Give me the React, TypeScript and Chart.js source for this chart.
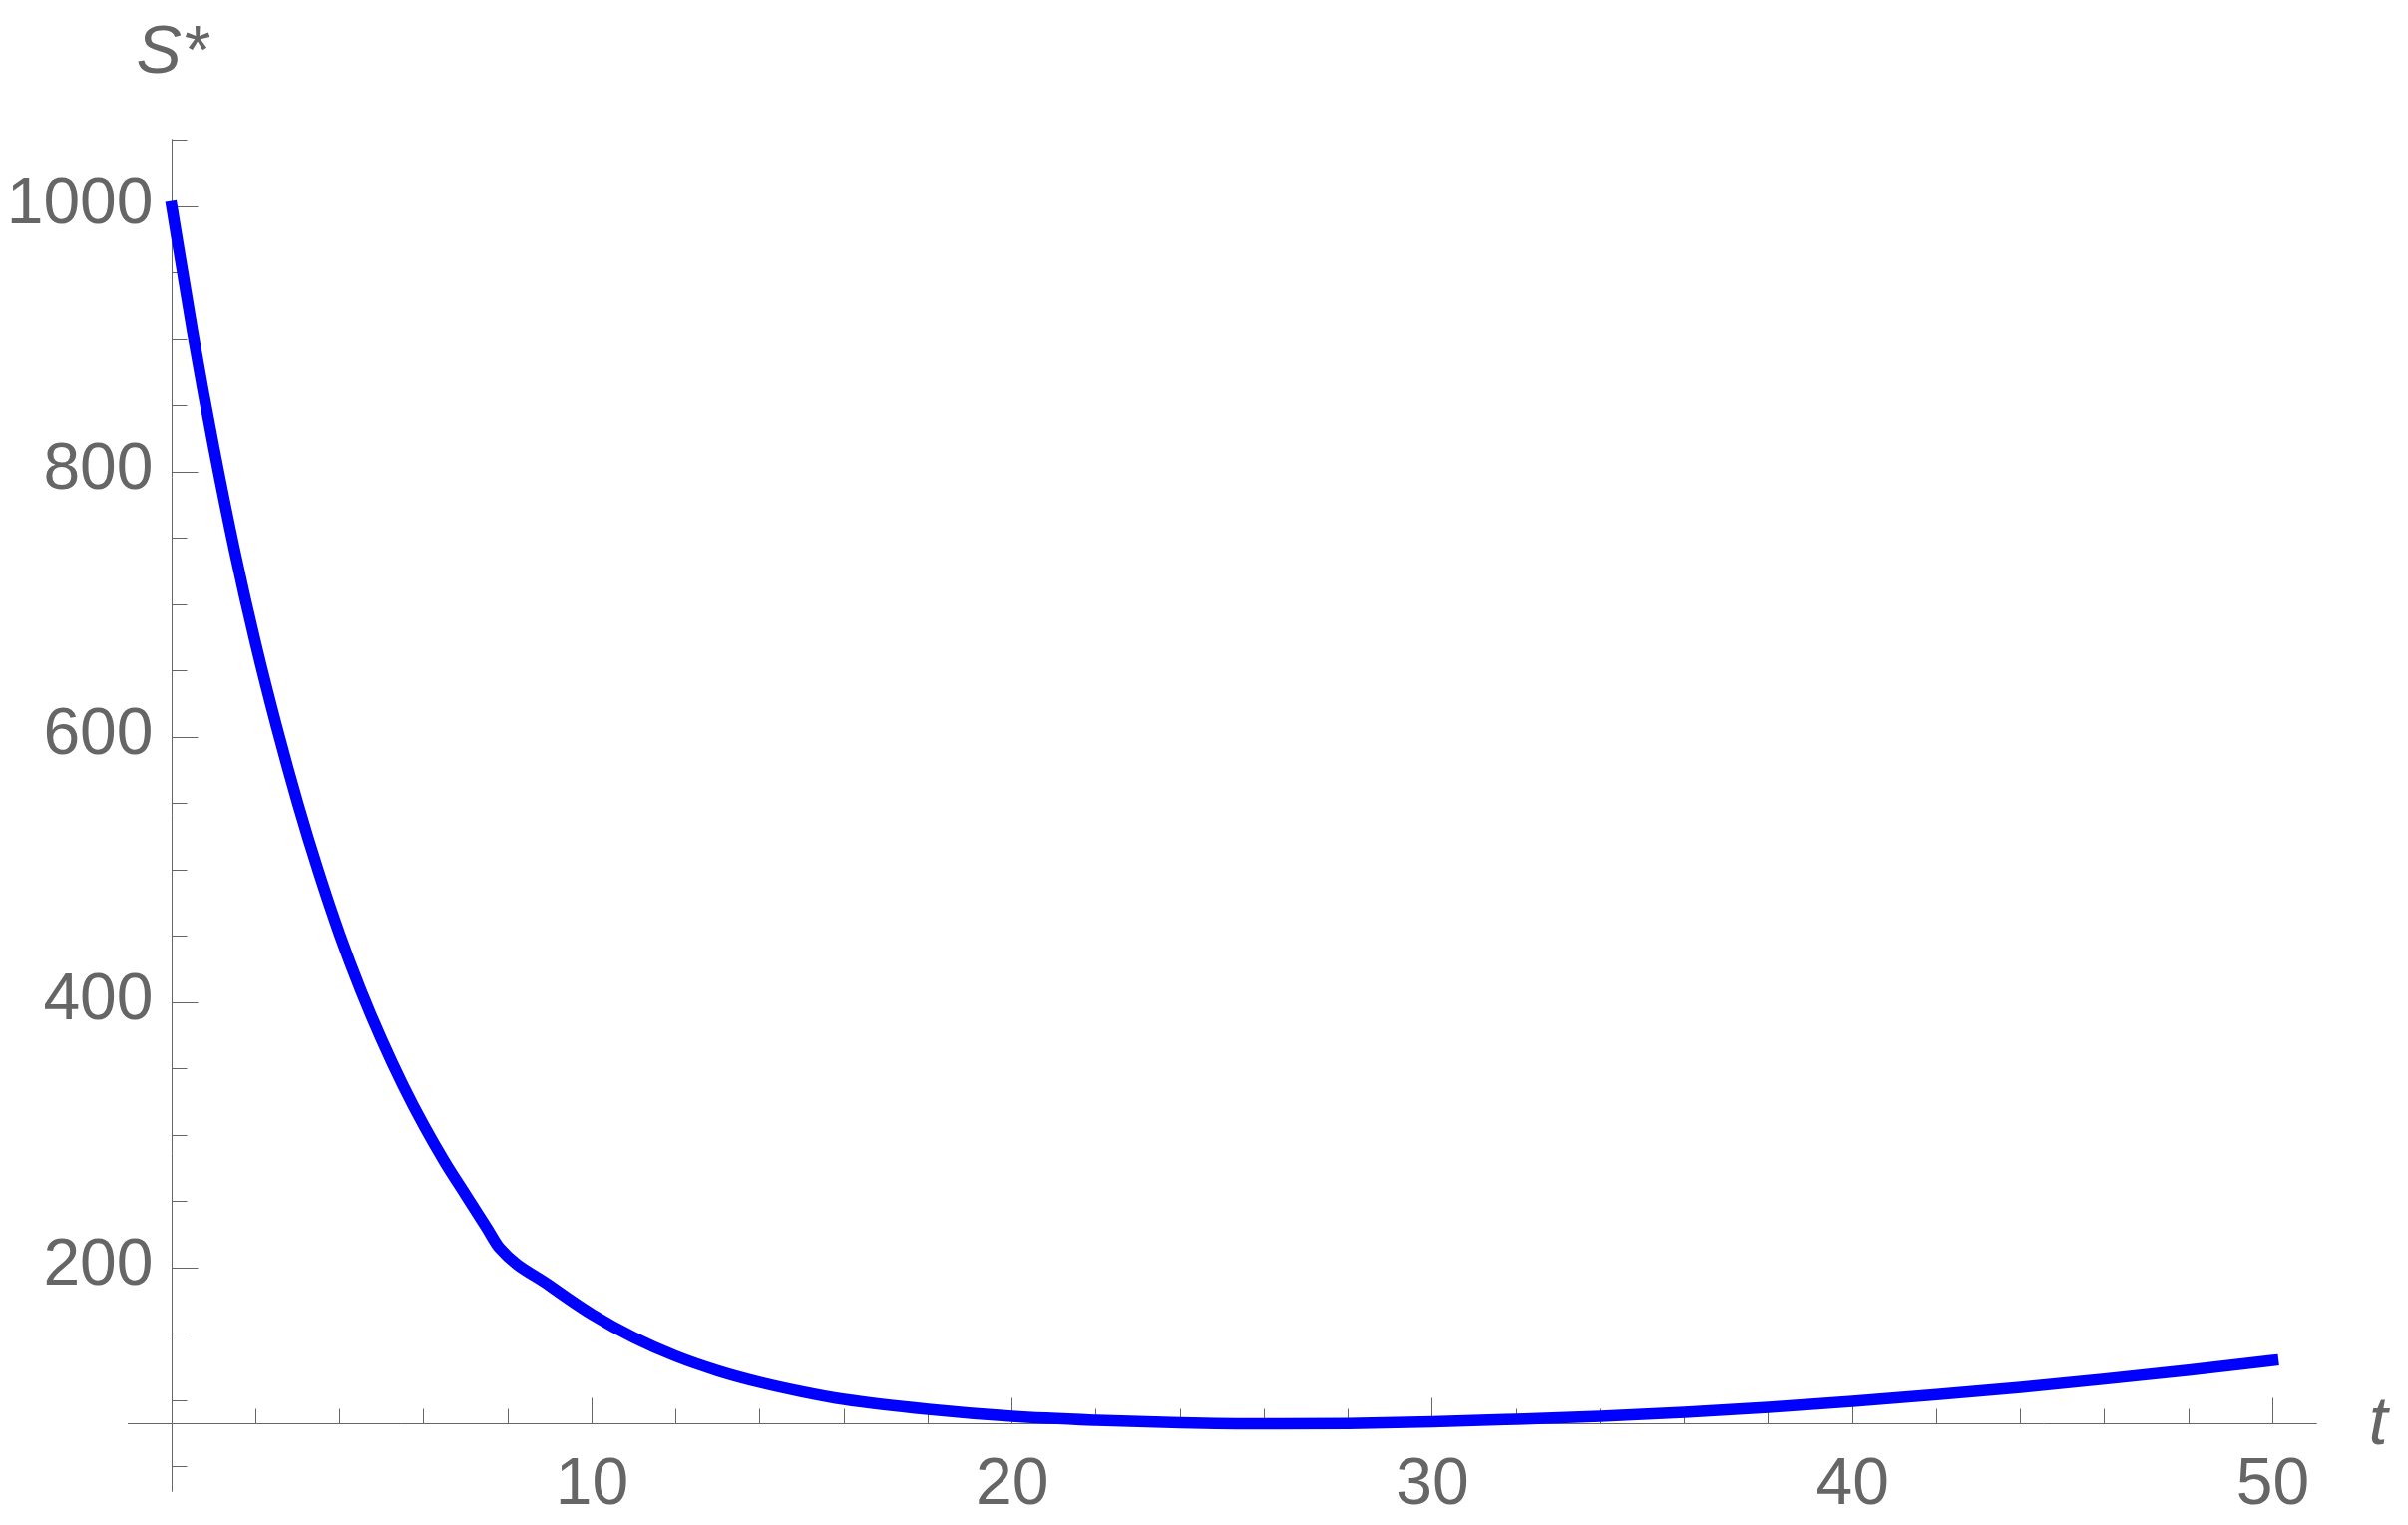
import React, { useEffect, useRef } from "react";
import { Chart, registerables } from "chart.js";

Chart.register(...registerables);

// ---- data ----
const tValues = [
  0, 0.5, 1, 1.5, 2, 2.5, 3, 3.5, 4, 4.5, 5, 5.5, 6, 6.5, 7, 7.5, 7.8,
  9, 10, 11, 12, 13, 14, 15, 16, 18, 20, 22, 24, 26, 28, 30, 32, 34, 36, 38,
  40, 42, 44, 46, 48, 50,
];
const sValues = [
  1000, 904.6, 818.3, 739.9, 670, 607.3, 550, 498.1, 451, 409.2, 371.7, 337.8,
  307.3, 279.8, 254.9, 230, 215,
  186.5, 165, 147.5, 133.5, 122.5, 113.8, 106.8, 101, 93.5, 88.2, 85.2, 83.3,
  82.5, 82.8, 84, 86, 88.3, 91.3, 95, 99.5, 104.5, 110, 116.3, 123, 130.3,
];

const xMajorTicks = [10, 20, 30, 40, 50];
const xTickLabels = ["10", "20", "30", "40", "50"];
const xMinorTicks = [2, 4, 6, 8, 12, 14, 16, 18, 22, 24, 26, 28, 32, 34, 36, 38, 42, 44, 46, 48];
const yMajorTicks = [200, 400, 600, 800, 1000];
const yTickLabels = ["200", "400", "600", "800", "1000"];
const yMinorTicks = [50, 100, 150, 250, 300, 350, 450, 500, 550, 650, 700, 750, 850, 900, 950, 1050];
const xAxisTitle = "t";
const yAxisTitle = "S*";
const axisCross = { t: 0, s: 82.4 };
const xRange = [-1.05, 51.05];
const yRange = [31.3, 1051.1];

// ---- styles ----
const AXIS_COLOR = "#666666";
const TEXT_COLOR = "#666666";
const LINE_COLOR = "#0000ff";
const FONT_FAMILY = '"Liberation Sans", Arial, sans-serif';

const axesPlugin = {
  id: "mmaAxes",
  beforeDatasetsDraw(chart: any) {
    const { ctx, chartArea, scales } = chart;
    const xs = scales.x;
    const ys = scales.y;
    const crisp = (v: number) => Math.round(v - 0.5) + 0.5;
    const ox = crisp(xs.getPixelForValue(axisCross.t));
    const oy = crisp(ys.getPixelForValue(axisCross.s));
    const majorLen = 26;
    const minorLen = 15;

    ctx.save();
    ctx.strokeStyle = AXIS_COLOR;
    ctx.lineWidth = 1;
    ctx.beginPath();
    // axis lines
    ctx.moveTo(chartArea.left, oy);
    ctx.lineTo(chartArea.right, oy);
    ctx.moveTo(ox, chartArea.top);
    ctx.lineTo(ox, chartArea.bottom);
    // x ticks (pointing up, into the plot)
    xMajorTicks.forEach((t) => {
      const px = crisp(xs.getPixelForValue(t));
      ctx.moveTo(px, oy);
      ctx.lineTo(px, oy - majorLen);
    });
    xMinorTicks.forEach((t) => {
      const px = crisp(xs.getPixelForValue(t));
      ctx.moveTo(px, oy);
      ctx.lineTo(px, oy - minorLen);
    });
    // y ticks (pointing right, into the plot)
    yMajorTicks.forEach((s) => {
      const py = crisp(ys.getPixelForValue(s));
      ctx.moveTo(ox, py);
      ctx.lineTo(ox + majorLen, py);
    });
    yMinorTicks.forEach((s) => {
      const py = crisp(ys.getPixelForValue(s));
      ctx.moveTo(ox, py);
      ctx.lineTo(ox + minorLen, py);
    });
    ctx.stroke();

    // tick labels
    ctx.fillStyle = TEXT_COLOR;
    ctx.font = `66px ${FONT_FAMILY}`;
    ctx.textBaseline = "alphabetic";
    ctx.textAlign = "center";
    xMajorTicks.forEach((t, i) => {
      ctx.fillText(xTickLabels[i], xs.getPixelForValue(t), oy + 80.5);
    });
    ctx.textAlign = "right";
    yMajorTicks.forEach((s, i) => {
      ctx.fillText(yTickLabels[i], ox - 19, ys.getPixelForValue(s) + 16.7);
    });

    // axis titles
    ctx.font = `italic 68px ${FONT_FAMILY}`;
    ctx.textAlign = "center";
    ctx.fillText(yAxisTitle, ox, 73);
    ctx.textAlign = "left";
    ctx.fillText(xAxisTitle, chartArea.right + 52, oy + 20);
    ctx.restore();
  },
};

export default function App() {
  const canvasRef = useRef<HTMLCanvasElement | null>(null);

  useEffect(() => {
    if (!canvasRef.current) return;
    const points = tValues.map((t, i) => ({ x: t, y: sValues[i] }));
    const chart = new Chart(canvasRef.current, {
      type: "line",
      data: {
        datasets: [
          {
            label: "S*",
            data: points,
            borderColor: LINE_COLOR,
            backgroundColor: LINE_COLOR,
            borderWidth: 11.5,
            borderCapStyle: "square",
            borderJoinStyle: "round",
            pointRadius: 0,
            pointHoverRadius: 0,
            cubicInterpolationMode: "monotone",
            fill: false,
            clip: false,
          } as any,
        ],
      },
      options: {
        animation: false,
        responsive: true,
        maintainAspectRatio: false,
        devicePixelRatio: 1,
        layout: {
          padding: { left: 128, right: 91.3, top: 139.3, bottom: 33.3 },
        },
        plugins: {
          legend: { display: false },
          tooltip: { enabled: false },
          title: { display: false },
        },
        events: [],
        scales: {
          x: {
            type: "linear",
            min: xRange[0],
            max: xRange[1],
            display: false,
          },
          y: {
            type: "linear",
            min: yRange[0],
            max: yRange[1],
            display: false,
          },
        },
      },
      plugins: [axesPlugin],
    });
    return () => chart.destroy();
  }, []);

  return (
    <div
      style={{
        position: "fixed",
        left: 0,
        top: 0,
        width: "2414px",
        height: "1529px",
        background: "#ffffff",
      }}
    >
      <canvas ref={canvasRef} />
    </div>
  );
}
